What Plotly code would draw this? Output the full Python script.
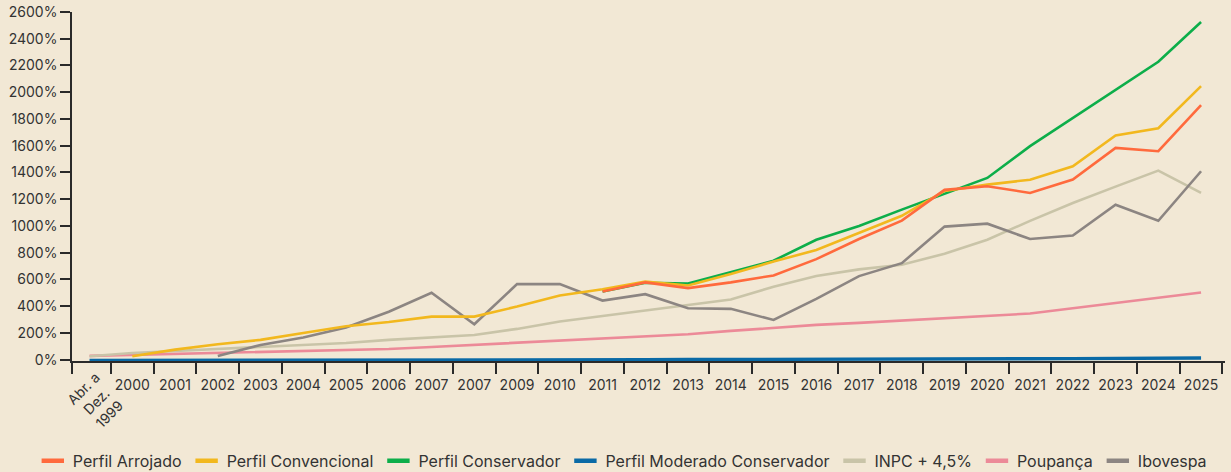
import plotly.graph_objects as go

categories = ["Abr. a Dez. 1999", "2000", "2001", "2002", "2003", "2004", "2005", "2006",
              "2007", "2007", "2009", "2010", "2011", "2012", "2013", "2014", "2015",
              "2016", "2017", "2018", "2019", "2020", "2021", "2022", "2023", "2024", "2025"]

arrojado = [None]*12 + [510, 578, 535, 578, 630, 752, 902, 1040, 1270, 1297, 1247, 1347, 1584, 1559, 1904]
convencional = [None, 25, 75, 115, 148, 200, 250, 282, 322, 322, 397, 480, 527, 584, 555, 640,
                734, 820, 950, 1076, 1262, 1309, 1346, 1446, 1676, 1731, 2046]
conservador = [None]*12 + [510, 575, 570, 656, 740, 897, 1000, 1122, 1240, 1359, 1597, 1808, 2019, 2228, 2525]
moderado = [-6, -6, -5, -5, -4, -4, -3, -3, -2, -2, -1, -1, 0, 0, 1, 1, 2, 2, 3, 4, 5, 6, 7, 8, 9, 10, 12]
inpc = [25, 50, 65, 80, 95, 110, 125, 148, 165, 185, 230, 285, 327, 367, 410, 450, 545, 625, 675,
        710, 792, 897, 1038, 1172, 1294, 1414, 1247]
poupanca = [28, 35, 40, 48, 55, 63, 72, 80, 95, 110, 125, 140, 155, 170, 190, 215, 240, 260, 275,
            292, 308, 325, 345, 385, 425, 465, 502]
ibovespa = [None, None, None, 28, 110, 165, 240, 358, 500, 265, 565, 565, 442, 490, 385, 380, 297,
            455, 625, 722, 995, 1017, 902, 929, 1159, 1039, 1409]

y_ticks = list(range(0, 2601, 200))

series = [
    ("Perfil Arrojado", arrojado, "#FF6A3D", 2.6, 7),
    ("Perfil Convencional", convencional, "#F2B81E", 2.6, 6),
    ("Perfil Conservador", conservador, "#0DAE4A", 2.6, 5),
    ("Perfil Moderado Conservador", moderado, "#0A6AA6", 3.4, 1),
    ("INPC + 4,5%", inpc, "#C9C4A8", 2.6, 3),
    ("Poupança", poupanca, "#EC8A98", 2.6, 2),
    ("Ibovespa", ibovespa, "#8C8582", 2.6, 4),
]

FONT = "Inter"
TXT = "#333333"
AX = "#2a2a2a"
BG = "#F2E8D5"

x_idx = list(range(len(categories)))

fig = go.Figure()
for name, vals, color, w, z in sorted(series, key=lambda s: s[4]):
    fig.add_trace(go.Scatter(x=x_idx, y=vals, mode="lines", name=name,
                             line=dict(color=color, width=w), showlegend=False,
                             hoverinfo="skip"))
for rank, (name, vals, color, w, z) in enumerate(series):
    fig.add_trace(go.Scatter(x=[None], y=[None], mode="markers", name=name,
                             marker=dict(symbol="line-ew", size=18, color=color,
                                         line=dict(color=color, width=4.5)),
                             legendrank=rank + 1, showlegend=True))

boundaries = [-0.41] + [i + 0.5 for i in range(len(categories))]

fig.update_layout(
    width=1231, height=472,
    paper_bgcolor=BG, plot_bgcolor=BG,
    margin=dict(l=72, r=6, t=12, b=111, autoexpand=False),
    font=dict(family=FONT, size=14, color=TXT),
    showlegend=True,
    legend=dict(orientation="h", x=-0.034, xanchor="left", y=-0.286, yanchor="middle",
                font=dict(family=FONT, size=16, color=TXT), bgcolor="rgba(0,0,0,0)",
                itemsizing="trace", traceorder="normal"),
    xaxis=dict(range=[-0.41, 26.56], tickmode="array",
               tickvals=x_idx[1:], ticktext=categories[1:],
               tickangle=0, ticks="outside", ticklen=10, tickcolor="rgba(0,0,0,0)",
               showline=True, linecolor=AX, linewidth=1.5, showgrid=False, zeroline=False,
               layer="below traces",
               minor=dict(tickmode="array", tickvals=boundaries, ticks="outside", ticklen=11,
                          tickcolor=AX, tickwidth=1.5, showgrid=False),
               tickfont=dict(family=FONT, size=14, color=TXT)),
    yaxis=dict(range=[-10, 2600], tickmode="array", tickvals=y_ticks,
               ticktext=[f"{v}%" for v in y_ticks],
               ticks="outside", ticklen=10, tickcolor=AX, tickwidth=1.5,
               showline=True, linecolor=AX, linewidth=1.5, showgrid=False, zeroline=False,
               layer="below traces",
               tickfont=dict(family=FONT, size=14, color=TXT)),
)

fig.add_annotation(x=0.14, xref="x", y=-0.116, yref="paper",
                   text="Abr. a<br>Dez.<br>1999", textangle=-45, showarrow=False,
                   xanchor="center", yanchor="middle", align="center",
                   font=dict(family=FONT, size=14, color=TXT))

fig.write_html("out.html", config={"displayModeBar": False},
               post_script="document.body.style.margin='0';document.body.style.background='" + BG + "';")
